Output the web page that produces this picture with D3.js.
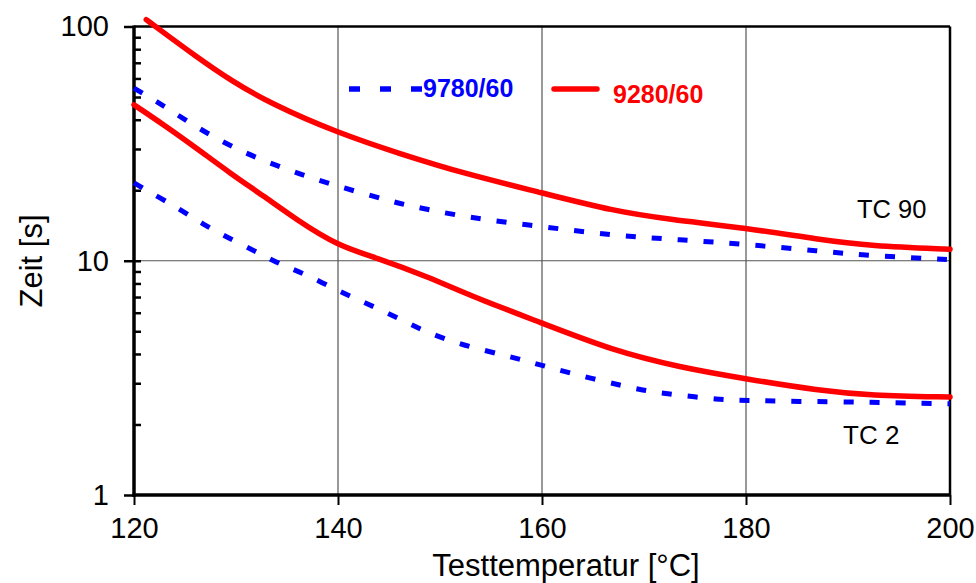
<!DOCTYPE html>
<html>
<head>
<meta charset="utf-8">
<script src="https://cdn.jsdelivr.net/npm/d3@7"></script>
<style>
  body { margin: 0; background: #fff; }
  svg text { font-family: "Liberation Sans", Arial, sans-serif; }
</style>
</head>
<body>
<div id="main"></div>
<script>
// values (temperature in °C, time in s)
var tempBlueTC90 = [120, 122.2, 124.5, 128.4, 132.4, 136.4, 140, 145.1, 147.2, 152.6, 160, 167, 173.5, 180, 187.2, 192.2, 198.4, 200];
var zeitBlueTC90 = [54.6, 47.9, 41.3, 32.4, 27.0, 23.3, 20.8, 17.96, 17.1, 15.3, 14.0, 12.8, 12.3, 11.75, 11.0, 10.5, 10.2, 10.1];

var tempBlueTC2 = [120, 122.5, 124.8, 126.8, 128.8, 132.4, 134.3, 136.8, 140, 142.5, 147.1, 148.7, 152.3, 156.9, 160, 165, 169.9, 172.5, 177.4, 180, 184.8, 192.2, 197.7, 200];
var zeitBlueTC2 = [21.5, 18.6, 16.3, 14.3, 12.8, 10.7, 9.66, 8.77, 7.44, 6.68, 5.37, 4.95, 4.34, 3.9, 3.57, 3.13, 2.79, 2.70, 2.55, 2.53, 2.51, 2.49, 2.46, 2.45];

var tempRedTC90 = [121.2, 122.1, 126.1, 129.4, 133.3, 140, 146.1, 152.6, 160, 167, 172.5, 180, 187.2, 192.2, 200];
var zeitRedTC90 = [107, 100, 74.4, 59.2, 47.1, 35.1, 28.6, 23.4, 19.5, 16.3, 15.0, 13.8, 12.3, 11.56, 11.2];

var tempRedTC2 = [120, 122.9, 126.1, 129.4, 132.7, 135.9, 140, 143.8, 149, 152.6, 160, 167, 173.5, 180, 187.2, 192.2, 200];
var zeitRedTC2 = [46.3, 38.1, 30.3, 23.7, 18.9, 15.0, 11.56, 10.3, 8.48, 7.2, 5.42, 4.13, 3.51, 3.13, 2.79, 2.66, 2.62];

var xTicks = [120, 140, 160, 180, 200];
var yMajor = [1, 10, 100];
var yMinor = [2, 3, 4, 5, 6, 7, 8, 9, 20, 30, 40, 50, 60, 70, 80, 90];
var seriesNames = ["9780/60", "9280/60"];
var seriesColors = ["#0000ff", "#ff0000"];

var svg = d3.select("#main").append("svg")
	.attr("width", 976)
	.attr("height", 583);

var plotLeft = 134, plotRight = 950, plotTop = 26.5, plotBottom = 495;

var x = d3.scaleLinear().domain([120, 200]).range([plotLeft, plotRight]);
var y = d3.scaleLog().domain([1, 100]).range([plotBottom, plotTop]);

// grid lines
svg.selectAll(".vgrid").data([140, 160, 180]).enter().append("line")
	.attr("x1", function(d) { return x(d); })
	.attr("x2", function(d) { return x(d); })
	.attr("y1", plotTop).attr("y2", plotBottom)
	.attr("stroke", "#555").attr("stroke-width", 1.2);
svg.append("line")
	.attr("x1", plotLeft).attr("x2", plotRight)
	.attr("y1", y(10)).attr("y2", y(10))
	.attr("stroke", "#555").attr("stroke-width", 1.2);

// y axis: majors outside with labels, all ticks inside
var yAxis = svg.append("g")
	.attr("transform", "translate(" + plotLeft + ",0)")
	.call(d3.axisLeft(y).tickValues(yMajor).tickFormat(d3.format("d"))
		.tickSizeInner(10).tickSizeOuter(0).tickPadding(15));
yAxis.select(".domain").remove();
yAxis.selectAll("line").attr("stroke", "#000").attr("stroke-width", 2.5);
yAxis.selectAll("text").attr("font-size", 29).attr("fill", "#000")
	.style("font-family", "'Liberation Sans', Arial, sans-serif");

var yInner = svg.append("g")
	.attr("transform", "translate(" + plotLeft + ",0)")
	.call(d3.axisRight(y).tickValues(yMinor.concat([10])).tickFormat("")
		.tickSizeInner(7).tickSizeOuter(0));
yInner.select(".domain").remove();
yInner.selectAll("line").attr("stroke", "#000").attr("stroke-width", 2.5);

// x axis
var xAxis = svg.append("g")
	.attr("transform", "translate(0," + plotBottom + ")")
	.call(d3.axisBottom(x).tickValues(xTicks).tickFormat(d3.format("d"))
		.tickSizeInner(10).tickSizeOuter(0).tickPadding(12));
xAxis.select(".domain").remove();
xAxis.selectAll("line").attr("stroke", "#000").attr("stroke-width", 2);
xAxis.selectAll("text").attr("font-size", 29).attr("fill", "#000")
	.style("font-family", "'Liberation Sans', Arial, sans-serif");

// frame
svg.append("line").attr("x1", plotLeft).attr("x2", plotRight).attr("y1", plotTop).attr("y2", plotTop)
	.attr("stroke", "#000").attr("stroke-width", 2.5);
svg.append("line").attr("x1", plotRight).attr("x2", plotRight).attr("y1", plotTop).attr("y2", plotBottom)
	.attr("stroke", "#000").attr("stroke-width", 2.5);
svg.append("line").attr("x1", plotLeft).attr("x2", plotLeft).attr("y1", plotTop - 1).attr("y2", plotBottom + 2)
	.attr("stroke", "#000").attr("stroke-width", 3.5);
svg.append("line").attr("x1", plotLeft - 1.5).attr("x2", plotRight + 1).attr("y1", plotBottom).attr("y2", plotBottom)
	.attr("stroke", "#000").attr("stroke-width", 3.5);

// curves
var line = d3.line()
	.x(function(d) { return x(d[0]); })
	.y(function(d) { return y(d[1]); })
	.curve(d3.curveBasis);

function drawSeries(temps, vals, color, dashed) {
	var pts = d3.zip(temps, vals);
	var p = svg.append("path")
		.attr("d", line(pts))
		.attr("fill", "none")
		.attr("stroke", color);
	if (dashed) {
		p.attr("stroke-width", 5).attr("stroke-dasharray", "10,16");
	} else {
		p.attr("stroke-width", 5.5).attr("stroke-linecap", "round");
	}
}

drawSeries(tempBlueTC90, zeitBlueTC90, seriesColors[0], true);
drawSeries(tempBlueTC2, zeitBlueTC2, seriesColors[0], true);
drawSeries(tempRedTC90, zeitRedTC90, seriesColors[1], false);
drawSeries(tempRedTC2, zeitRedTC2, seriesColors[1], false);

// legend
svg.append("line").attr("x1", 349).attr("x2", 422).attr("y1", 89).attr("y2", 89)
	.attr("stroke", seriesColors[0]).attr("stroke-width", 5.5).attr("stroke-dasharray", "11,20");
svg.append("text").attr("x", 423).attr("y", 97)
	.attr("font-size", 25).attr("font-weight", "bold").attr("fill", seriesColors[0])
	.text(seriesNames[0]);
svg.append("line").attr("x1", 554).attr("x2", 597).attr("y1", 89).attr("y2", 89)
	.attr("stroke", seriesColors[1]).attr("stroke-width", 5.5).attr("stroke-linecap", "round");
svg.append("text").attr("x", 613).attr("y", 103)
	.attr("font-size", 25).attr("font-weight", "bold").attr("fill", seriesColors[1])
	.text(seriesNames[1]);

// annotations
svg.append("text").attr("x", 857).attr("y", 218).attr("font-size", 25.5).text("TC 90");
svg.append("text").attr("x", 843).attr("y", 444).attr("font-size", 26).text("TC 2");

// axis titles
svg.append("text").attr("x", 566).attr("y", 576).attr("text-anchor", "middle")
	.attr("font-size", 31).text("Testtemperatur [°C]");
svg.append("text").attr("transform", "translate(42,261) rotate(-90)")
	.attr("text-anchor", "middle").attr("font-size", 31).text("Zeit [s]");
</script>
</body>
</html>
